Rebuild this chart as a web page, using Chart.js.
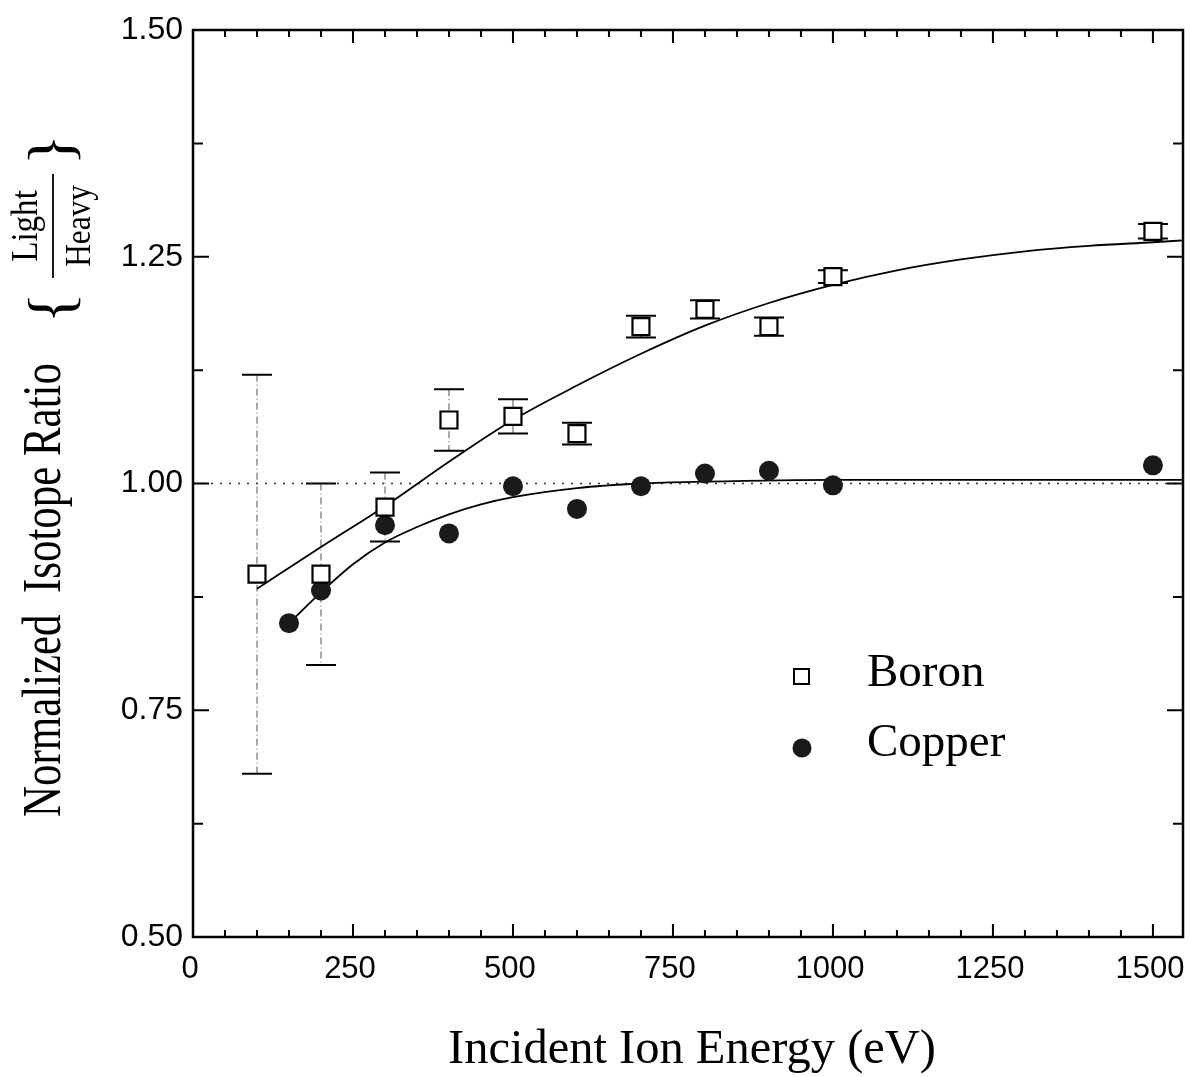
<!DOCTYPE html>
<html><head><meta charset="utf-8">
<script src="https://cdn.jsdelivr.net/npm/chart.js@4"></script>
<style>html,body{margin:0;padding:0;background:#fff;}</style>
</head><body>
<canvas id="c" width="1190" height="1077"></canvas>
<script>
// ---- data ----
const boronEnergy = [100, 200, 300, 400, 500, 600, 700, 800, 900, 1000, 1500];
const boronRatio  = [0.900, 0.900, 0.974, 1.070, 1.074, 1.055, 1.173, 1.192, 1.173, 1.228, 1.278];
const boronErr    = [0.220, 0.100, 0.038, 0.034, 0.019, 0.012, 0.012, 0.010, 0.010, 0.007, 0.008];

const copperEnergy = [150, 200, 300, 400, 500, 600, 700, 800, 900, 1000, 1500];
const copperRatio  = [0.846, 0.882, 0.954, 0.945, 0.997, 0.972, 0.997, 1.011, 1.014, 0.998, 1.020];

const boronFitEnergy = [100, 200, 300, 400, 500, 600, 700, 800, 900, 1000, 1100, 1200, 1300, 1400, 1500, 1547];
const boronFitRatio  = [0.884, 0.930, 0.975, 1.024, 1.070, 1.108, 1.143, 1.174, 1.199, 1.219, 1.235, 1.247, 1.256, 1.262, 1.266, 1.268];

const copperFitEnergy = [150, 200, 250, 300, 350, 400, 450, 500, 600, 700, 800, 1000, 1547];
const copperFitRatio  = [0.846, 0.880, 0.911, 0.935, 0.952, 0.966, 0.977, 0.985, 0.995, 1.000, 1.002, 1.004, 1.004];

const refEnergy = [0, 1547];
const refRatio  = [1.0, 1.0];

const xTickLabels = [0, 250, 500, 750, 1000, 1250, 1500];
const yTickLabels = [0.50, 0.75, 1.00, 1.25, 1.50];

const seriesNames = ['Boron', 'Copper'];
const xTitle = 'Incident Ion Energy (eV)';
const yTitle = 'Normalized  Isotope Ratio';
const yFracTop = 'Light';
const yFracBottom = 'Heavy';

const X_MIN = 0, X_MAX = 1547, Y_MIN = 0.5, Y_MAX = 1.5;

const pts = (xs, ys) => xs.map((x, i) => ({x: x, y: ys[i]}));

const SERIF = '"Liberation Serif", "Times New Roman", serif';
const SANS = '"Liberation Sans", Arial, sans-serif';

const decor = {
  id: 'decor',
  beforeDatasetsDraw(chart) {
    const {ctx, scales: {x, y}} = chart;
    ctx.save();
    boronEnergy.forEach((e, i) => {
      const px = x.getPixelForValue(e);
      const top = y.getPixelForValue(boronRatio[i] + boronErr[i]);
      const bot = y.getPixelForValue(boronRatio[i] - boronErr[i]);
      ctx.strokeStyle = '#555';
      ctx.lineWidth = 1;
      ctx.setLineDash(i < 4 ? [7, 3, 1, 3] : []);
      ctx.beginPath(); ctx.moveTo(px, top); ctx.lineTo(px, bot); ctx.stroke();
      ctx.setLineDash([]);
      ctx.strokeStyle = '#000';
      ctx.lineWidth = 2;
      const hw = 15;
      ctx.beginPath();
      ctx.moveTo(px - hw, top); ctx.lineTo(px + hw, top);
      ctx.moveTo(px - hw, bot); ctx.lineTo(px + hw, bot);
      ctx.stroke();
    });
    ctx.restore();
  },
  afterDraw(chart) {
    const {ctx, chartArea: a, scales: {x, y}} = chart;
    ctx.save();
    // frame
    ctx.strokeStyle = '#000';
    ctx.lineWidth = 2.5;
    ctx.strokeRect(a.left, a.top, a.right - a.left, a.bottom - a.top);
    // ticks on all sides (inward)
    ctx.lineWidth = 2;
    ctx.beginPath();
    for (let v = 0; v <= 1500; v += 50) {
      const px = x.getPixelForValue(v);
      const major = v % 250 === 0;
      const L = major ? 13 : 7;
      ctx.moveTo(px, a.bottom); ctx.lineTo(px, a.bottom - L);
      ctx.moveTo(px, a.top); ctx.lineTo(px, a.top + L);
    }
    for (let k = 0; k <= 8; k++) {
      const v = 0.5 + k * 0.125;
      const py = y.getPixelForValue(v);
      const L = k % 2 === 0 ? 16 : 10;
      ctx.moveTo(a.left, py); ctx.lineTo(a.left + L, py);
      ctx.moveTo(a.right, py); ctx.lineTo(a.right - L, py);
    }
    ctx.stroke();

    // x tick labels
    ctx.fillStyle = '#000';
    ctx.font = '31px ' + SANS;
    ctx.textAlign = 'center';
    ctx.textBaseline = 'alphabetic';
    xTickLabels.forEach(v => ctx.fillText(String(v), x.getPixelForValue(v) - 3, a.bottom + 41));

    // legend
    const ds = chart.data.datasets;
    ctx.font = '47px ' + SERIF;
    ctx.textAlign = 'left';
    ctx.lineWidth = 2;
    ctx.strokeStyle = ds[0].borderColor;
    ctx.fillStyle = ds[0].backgroundColor;
    ctx.fillRect(794, 669, 15, 15);
    ctx.strokeRect(794, 669, 15, 15);
    ctx.fillStyle = '#000';
    ctx.fillText(seriesNames[0], 867, 686);
    ctx.fillStyle = ds[1].backgroundColor;
    ctx.beginPath(); ctx.arc(802, 748, 9.5, 0, Math.PI * 2); ctx.fill();
    ctx.fillStyle = '#000';
    ctx.fillText(seriesNames[1], 867, 756);

    // x title
    ctx.font = '48.5px ' + SERIF;
    ctx.textAlign = 'center';
    ctx.fillText(xTitle, 692, 1063);

    // y title (rotated, condensed)
    ctx.save();
    ctx.translate(60, 590);
    ctx.rotate(-Math.PI / 2);
    ctx.scale(0.78, 1);
    ctx.font = '55px ' + SERIF;
    ctx.textAlign = 'center';
    ctx.fillText(yTitle, 0, 0);
    ctx.restore();

    // fraction with braces
    ctx.save();
    ctx.translate(53, 226);
    ctx.rotate(-Math.PI / 2);
    ctx.textAlign = 'center';
    ctx.save();
    ctx.scale(0.87, 1);
    ctx.font = '38px ' + SERIF;
    ctx.fillText(yFracTop, 0, -16);
    ctx.font = '36px ' + SERIF;
    ctx.fillText(yFracBottom, 0, 37);
    ctx.restore();
    ctx.lineWidth = 1.8;
    ctx.beginPath(); ctx.moveTo(-52, 0); ctx.lineTo(52, 0); ctx.stroke();
    ctx.font = '64px ' + SERIF;
    ctx.textBaseline = 'middle';
    ctx.fillText('{', -82, 2);
    ctx.fillText('}', 76, 2);
    ctx.restore();

    ctx.restore();
  }
};

new Chart(document.getElementById('c'), {
  type: 'scatter',
  data: {
    datasets: [
      { label: seriesNames[0], data: pts(boronEnergy, boronRatio), pointStyle: 'rect',
        pointRadius: 12, pointHoverRadius: 12, borderColor: '#000', backgroundColor: '#fff',
        borderWidth: 2.2, showLine: false, order: 1 },
      { label: seriesNames[1], data: pts(copperEnergy, copperRatio), pointStyle: 'circle',
        pointRadius: 10, pointHoverRadius: 10, borderColor: '#1a1a1a', backgroundColor: '#1a1a1a',
        borderWidth: 0, showLine: false, order: 2 },
      { label: 'Boron fit', data: pts(boronFitEnergy, boronFitRatio), showLine: true,
        pointRadius: 0, borderColor: '#000', borderWidth: 1.8, cubicInterpolationMode: 'monotone', order: 3 },
      { label: 'Copper fit', data: pts(copperFitEnergy, copperFitRatio), showLine: true,
        pointRadius: 0, borderColor: '#000', borderWidth: 1.8, cubicInterpolationMode: 'monotone', order: 4 },
      { label: 'Unity', data: pts(refEnergy, refRatio), showLine: true, pointRadius: 0,
        borderColor: '#333', borderWidth: 1.5, borderDash: [2, 7], order: 5 }
    ]
  },
  options: {
    responsive: false,
    animation: false,
    events: [],
    layout: { autoPadding: false, padding: { top: 30, right: 7, left: 0, bottom: 0 } },
    plugins: { legend: { display: false }, tooltip: { enabled: false } },
    scales: {
      x: {
        type: 'linear', min: X_MIN, max: X_MAX,
        grid: { display: false, drawTicks: false },
        border: { display: false },
        afterFit: s => { s.height = 140; s.paddingLeft = 0; s.paddingRight = 0; },
        ticks: { display: false }
      },
      y: {
        type: 'linear', min: Y_MIN, max: Y_MAX,
        grid: { display: false, drawTicks: false },
        border: { display: false },
        afterFit: s => { s.width = 193; },
        afterBuildTicks: s => { s.ticks = yTickLabels.map(v => ({value: v})); },
        ticks: { padding: 10, color: '#000', autoSkip: false,
          font: { family: SANS, size: 32 },
          callback: v => Number(v).toFixed(2) }
      }
    }
  },
  plugins: [decor]
});
</script>
</body></html>
